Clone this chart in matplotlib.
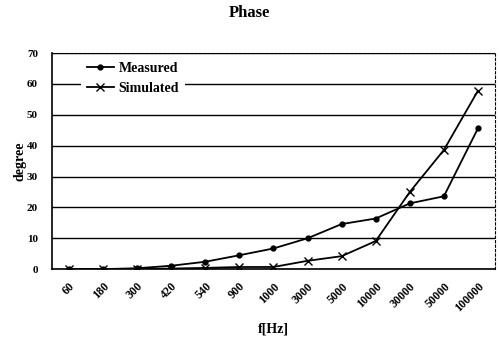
import numpy as np
import matplotlib.pyplot as plt

plt.rcParams['font.family'] = ['Liberation Serif', 'DejaVu Serif']
plt.rcParams['font.weight'] = 'bold'
plt.rcParams['axes.labelweight'] = 'bold'

freqs = ['60', '180', '300', '420', '540', '900', '1000', '3000', '5000',
         '10000', '30000', '50000', '100000']
measured = [0, 0, 0.3, 1.1, 2.4, 4.5, 6.7, 10, 14.6, 16.4, 21.3, 23.6, 45.6]
simulated = [0, 0, 0, 0.2, 0.4, 0.7, 0.7, 2.7, 4.2, 9.1, 25, 38.6, 57.8]

fig = plt.figure(figsize=(4.99, 3.42), dpi=100)
ax = fig.add_axes([0.104, 0.213, 0.888, 0.632])

x = np.arange(len(freqs))
ax.plot(x, measured, color='black', lw=1.3, marker='o', ms=3.5, label='Measured')
ax.plot(x, simulated, color='black', lw=1.3, marker='x', ms=6, mew=1.0, label='Simulated')

ax.set_xlim(-0.5, len(freqs) - 0.5)
ax.set_ylim(0, 70)
ax.set_yticks(range(0, 71, 10))
ax.set_xticks(x)
ax.set_xticklabels(freqs, rotation=45, ha='right', rotation_mode='anchor',
                   fontsize=8.5, fontweight='bold')
for lbl in ax.get_yticklabels():
    lbl.set_fontweight('bold')
ax.tick_params(axis='y', labelsize=8, length=0, pad=10)
ax.tick_params(axis='x', length=0, pad=8)
ax.yaxis.grid(True, color='black', lw=1)
ax.set_axisbelow(True)

for s in ['top', 'right']:
    ax.spines[s].set_linestyle((0, (2, 2)))
    ax.spines[s].set_linewidth(0.8)
ax.spines['left'].set_linewidth(1.2)
ax.spines['bottom'].set_linewidth(1.2)

ax.set_ylabel('degree', fontsize=10, fontweight='bold', labelpad=0)
ax.set_xlabel('f[Hz]', fontsize=10, fontweight='bold', labelpad=6)
fig.suptitle('Phase', fontsize=12, fontweight='bold', y=0.985)

leg = ax.legend(loc='upper left', bbox_to_anchor=(0.05, 1.015), frameon=True,
                fontsize=10, handlelength=2.0, labelspacing=0.45,
                handletextpad=0.3, fancybox=False)
leg.get_frame().set_edgecolor('none')
leg.get_frame().set_facecolor('white')
leg.get_frame().set_alpha(1)
for t in leg.get_texts():
    t.set_fontweight('bold')

fig.savefig('out.png', dpi=100)
